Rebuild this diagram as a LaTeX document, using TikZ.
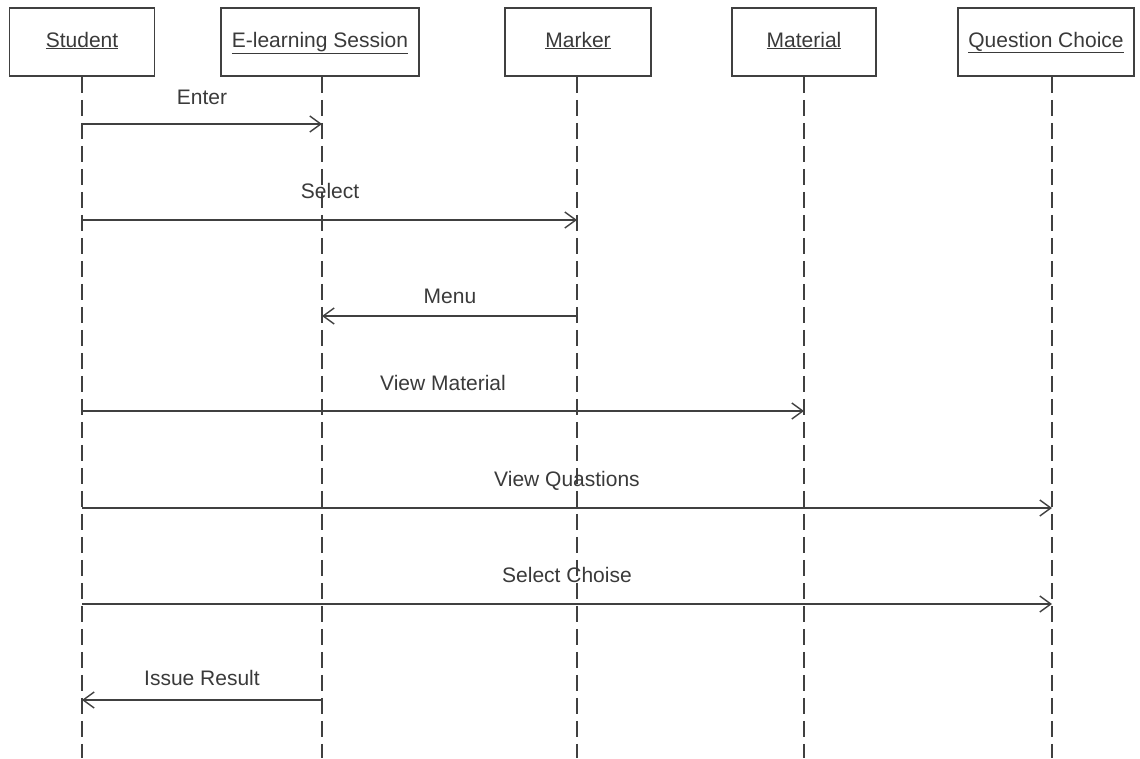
\documentclass[tikz,border=0pt]{standalone}
\usepackage{fontspec}
\setmainfont{Liberation Sans}
\usetikzlibrary{arrows.meta}
\definecolor{ink}{HTML}{3A3A3A}
\definecolor{linec}{HTML}{404040}
\begin{document}
\begin{tikzpicture}[x=1pt,y=-1pt,
  every node/.style={font=\fontsize{21}{25}\selectfont, text=ink},
  obj/.style={draw=linec, line width=1.6pt, fill=white, minimum height=68pt,
    inner sep=0pt, text height=15pt, text depth=5pt},
  life/.style={draw=linec, line width=1.6pt, dash pattern=on 16pt off 7pt},
  msg/.style={draw=linec, line width=1.4pt, -{Straight Barb[length=11pt,width=16pt,line width=1.4pt]}},
  lbl/.style={inner sep=0pt, anchor=base}]
\useasboundingbox (0,0) rectangle (1140,758);

% participants
\node[obj, minimum width=145pt] (stu) at (82,42) {\underline{Student}};
\node[obj, minimum width=198pt] (ses) at (320,42) {\underline{E-learning Session}};
\node[obj, minimum width=146pt] (mrk) at (578,42) {\underline{Marker}};
\node[obj, minimum width=144pt] (mat) at (804,42) {\underline{Material}};
\node[obj, minimum width=176pt] (qc)  at (1046,42) {\underline{Question Choice}};

% lifelines
\coordinate (stuX) at (82,0);
\coordinate (sesX) at (322,0);
\coordinate (mrkX) at (577,0);
\coordinate (matX) at (804,0);
\coordinate (qcX)  at (1052,0);
\foreach \n in {stu,ses,mrk,mat,qc}
  \draw[life] (\n X |- \n.south) -- (\n X |- 0,758);

% messages
\draw[msg] (stuX |- 0,124) -- (sesX |- 0,124);
\node[lbl] (m1) at (202,104) {Enter};
\draw[msg] (stuX |- 0,220) -- (mrkX |- 0,220);
\node[lbl] (m2) at (330,198) {Select};
\draw[msg] (mrkX |- 0,316) -- (sesX |- 0,316);
\node[lbl] (m3) at (450,303) {Menu};
\draw[msg] (stuX |- 0,411) -- (matX |- 0,411);
\node[lbl] (m4) at (443,390) {View Material};
\draw[msg] (stuX |- 0,508) -- (qcX |- 0,508);
\node[lbl] (m5) at (567,486) {View Quastions};
\draw[msg] (stuX |- 0,604) -- (qcX |- 0,604);
\node[lbl] (m6) at (567,582) {Select Choise};
\draw[msg] (sesX |- 0,700) -- (stuX |- 0,700);
\node[lbl] (m7) at (202,685) {Issue Result};
\end{tikzpicture}
\end{document}
